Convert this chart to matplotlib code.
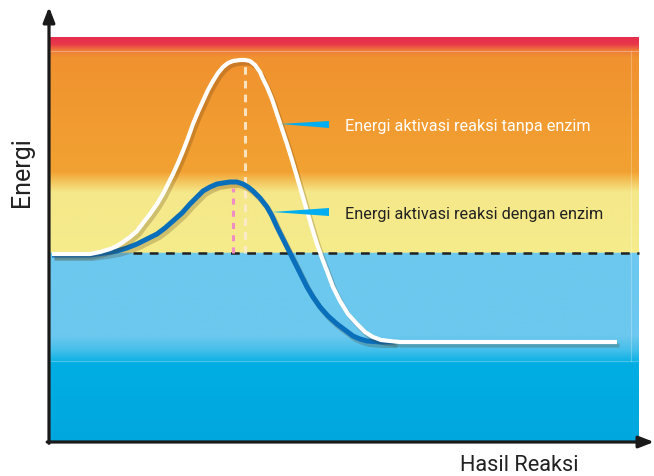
import numpy as np
import matplotlib.pyplot as plt
import matplotlib.patheffects as pe
from matplotlib.colors import LinearSegmentedColormap

plt.rcParams['font.family'] = ['Roboto', 'DejaVu Sans']

# Reaction progress (x) and energy (y)
tanpa_x = [3, 41, 51, 61, 68, 74, 81, 88, 94, 101, 108, 114, 119, 124, 129, 134, 139, 144, 149,
           154, 159, 164, 169, 174, 179, 184, 191, 196, 201, 206, 211, 214, 218, 223, 228, 233,
           238, 243, 248, 253, 258, 263, 268, 273, 278, 284, 291, 299, 308, 316, 324, 332, 341,
           351, 568]
tanpa_y = [188, 188, 190, 193, 196, 200, 205, 211, 219, 228, 238, 248, 258, 268, 279, 291, 304,
           318, 330, 341, 352, 361, 369, 375, 379, 381, 382, 382, 381, 377, 370, 363, 355, 343,
           328, 313, 298, 282, 265, 248, 231, 214, 198, 184, 171, 155, 141, 128, 118, 110, 105,
           102, 101, 100, 100]

dengan_x = [3, 41, 56, 68, 78, 88, 98, 108, 116, 124, 133, 141, 148, 154, 161, 168, 174, 181,
            188, 194, 199, 204, 211, 218, 223, 228, 233, 238, 243, 248, 253, 258, 264, 271, 279,
            288, 296, 304, 311, 318, 331, 346]
dengan_y = [187, 187, 189, 191, 194, 198, 203, 208, 214, 221, 229, 238, 245, 251, 255, 258, 259,
            260, 260, 258, 255, 251, 244, 235, 226, 215, 205, 195, 185, 175, 165, 155, 145, 135,
            126, 118, 112, 106, 103, 101, 100, 100]

energi_awal = 189
puncak_tanpa = (196, 376)
puncak_dengan = (184, 254)

label_tanpa = "Energi aktivasi reaksi tanpa enzim"
label_dengan = "Energi aktivasi reaksi dengan enzim"

# background colour stops (energy level, colour)
bg_stops = [(0, '#00A7DE'), (78, '#00AEE3'), (92, '#45BFEA'), (106, '#6CC8EE'),
            (189, '#6CC8EE'), (189.5, '#F5EC8C'), (250, '#F5E88A'), (262, '#F3C056'),
            (270, '#F2A232'), (385, '#F0922F'), (392, '#EE7A3A'), (398, '#E8384A'),
            (405, '#E42C4C')]
bg_w, bg_h = 590, 405

fig = plt.figure(figsize=(6.54, 4.77), dpi=100)
ax = fig.add_axes([49 / 654, 34 / 477, 605 / 654, 435 / 477])
ax.set_xlim(0, 605)
ax.set_ylim(0, 435)
ax.axis('off')

cmap = LinearSegmentedColormap.from_list('bg', [(s / bg_h, c) for s, c in bg_stops], N=1024)
grad = np.linspace(0, 1, 1024).reshape(-1, 1)
ax.imshow(grad, cmap=cmap, origin='lower', extent=(0, bg_w, 0, bg_h), aspect='auto', zorder=0)

# faint inner frame lines
ax.plot([0, bg_w], [391, 391], color='white', lw=0.8, alpha=0.3, zorder=1)
ax.plot([0, bg_w], [81, 81], color='white', lw=0.8, alpha=0.25, zorder=1)
ax.plot([582, 582], [81, 391], color='white', lw=0.8, alpha=0.25, zorder=1)

# reference lines
ax.plot([84, bg_w], [energi_awal, energi_awal], color='#222222', lw=1.8,
        dashes=(3.5, 3), zorder=2)
ax.plot([puncak_tanpa[0]] * 2, [energi_awal, puncak_tanpa[1]], color='#FBEBD0', lw=2.2,
        dashes=(2.5, 2), alpha=0.9, zorder=2)
ax.plot([puncak_dengan[0]] * 2, [energi_awal, puncak_dengan[1]], color='#EE8EC4', lw=2.2,
        dashes=(2, 2), zorder=2)

shadow = [pe.SimpleLineShadow(offset=(1.8, -2.5), shadow_color='#4a2a05', alpha=0.22),
          pe.Normal()]
ax.plot(dengan_x, dengan_y, color='#0A6FBA', lw=3.6, solid_capstyle='butt',
        solid_joinstyle='round', path_effects=shadow, zorder=3)
ax.plot(tanpa_x, tanpa_y, color='white', lw=3.0, solid_capstyle='butt',
        solid_joinstyle='round', path_effects=shadow, zorder=4)

# pointers and labels
pointers = [(231, 318, 321, 314, label_tanpa, 'white', 316),
            (223, 230, 234, 226, label_dengan, '#222222', 228)]
for tip_x, tip_y, top_y, bot_y, txt, col, ty in pointers:
    ax.fill([tip_x, 280, 280], [tip_y, top_y, bot_y], color='#00AEEF', lw=0, zorder=5)
    ax.text(296, ty, txt, color=col, fontsize=11.7, va='center', ha='left', zorder=5)

# axes with arrows
arrow = dict(arrowstyle='-|>,head_length=0.9,head_width=0.35', color='#1a1a1a', lw=2.3,
             shrinkA=0, shrinkB=0)
ax.annotate('', xy=(0, 1), xytext=(0, -0.003), xycoords='axes fraction', arrowprops=arrow)
ax.annotate('', xy=(1, 0), xytext=(-0.003, 0), xycoords='axes fraction', arrowprops=arrow)

fig.text(22 / 654, 1 - 172 / 477, "Energi", rotation=90, fontsize=18, color='#222222',
         ha='center', va='center')
fig.text(519 / 654, 1 - 466 / 477, "Hasil Reaksi", fontsize=15.7, color='#222222',
         ha='center', va='center')

fig.savefig('out.png', dpi=100)
